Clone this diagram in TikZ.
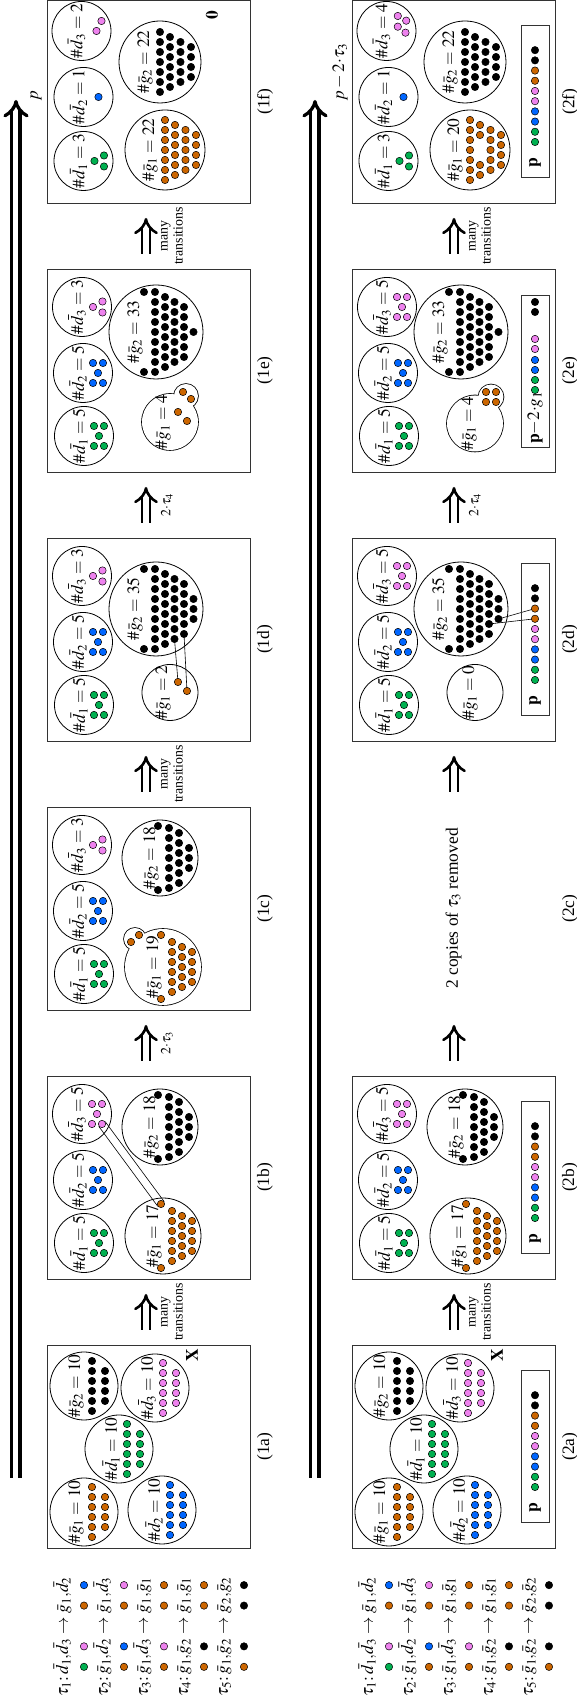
\documentclass[tikz,border=0pt]{standalone}
\usepackage{amsmath}
\usepackage{mathptmx}
\usepackage{fontspec}
\setmainfont{Liberation Serif}
\usetikzlibrary{arrows.meta, positioning, calc}

\definecolor{gcol}{RGB}{0,176,80}
\definecolor{bcol}{RGB}{0,102,255}
\definecolor{vcol}{RGB}{238,130,238}
\definecolor{ocol}{RGB}{204,102,0}
\definecolor{kcol}{RGB}{0,0,0}

\newcommand{\gbr}[1]{\bar{g}_{#1}}
\newcommand{\dbr}[1]{\bar{d}_{#1}}

% one token, and a centred row of tokens
\newcommand{\tokat}[3]{\filldraw[tokline, fill=#1] (#2,#3) circle[radius=3.7];}
\newcommand{\tokrow}[3]{\foreach \k in {1,...,#3}{\tokat{#1}{{(\k-1)*10-(#3-1)*5}}{#2}}}

% token layouts inside a set
\newcommand{\layquinc}[1]{\tokat{#1}{-10}{-10}\tokat{#1}{10}{-10}\tokat{#1}{0}{-15}\tokat{#1}{-10}{-20}\tokat{#1}{10}{-20}}
\newcommand{\laytrio}[1]{\tokat{#1}{0}{-11}\tokat{#1}{-5.5}{-20.5}\tokat{#1}{5.5}{-20.5}}
\newcommand{\layten}[1]{\tokrow{#1}{-8}{6}\tokrow{#1}{-21}{4}}
\newcommand{\laysvt}[1]{\tokat{#1}{-32}{2}\tokat{#1}{32}{2}\tokrow{#1}{-9}{6}\tokrow{#1}{-19}{5}\tokrow{#1}{-29}{4}}
\newcommand{\layegt}[1]{\tokat{#1}{-32}{2}\tokat{#1}{32}{2}\tokrow{#1}{-9}{7}\tokrow{#1}{-19}{6}\tokrow{#1}{-29}{3}}
\newcommand{\laytwt}[1]{\tokrow{#1}{0}{7}\tokrow{#1}{-10}{6}\tokrow{#1}{-20.5}{5}\tokrow{#1}{-31}{4}}
\newcommand{\laytwz}[1]{\tokrow{#1}{0}{7}\tokat{#1}{-25}{-10}\tokat{#1}{-15}{-10}\tokat{#1}{15}{-10}\tokat{#1}{25}{-10}\tokrow{#1}{-20.5}{5}\tokrow{#1}{-31}{4}}
\newcommand{\laytft}[1]{\tokat{#1}{-40}{12}\tokat{#1}{40}{12}\tokrow{#1}{1}{9}\tokrow{#1}{-9}{8}\tokrow{#1}{-18.5}{7}\tokrow{#1}{-28}{6}\tokrow{#1}{-37.5}{3}}
\newcommand{\laytth}[1]{\tokat{#1}{-40}{12}\tokat{#1}{40}{12}\tokrow{#1}{1}{9}\tokrow{#1}{-9}{8}\tokrow{#1}{-18.5}{7}\tokrow{#1}{-28}{6}\tokat{#1}{0}{-37.5}}
\newcommand{\ptoks}{\foreach \cl [count=\j from 0] in {gcol,gcol,bcol,bcol,vcol,vcol,ocol,ocol,kcol,kcol}{\tokat{\cl}{61+10.2*\j}{20}}}

% set: x, y, radius, label dy, label name, label, tokens
\newcommand{\cset}[7]{%
  \draw[setline] (#1,#2) circle[radius=#3];
  \begin{scope}[shift={(#1,#2)}]
    \node[lbl] (#5) at (0,#4) {$#6$};
    #7
  \end{scope}}

\begin{document}
\begin{tikzpicture}[
    x=1pt, y=1pt,
    rotate=90, transform shape,
    font=\fontsize{17.4}{20}\selectfont,
    frame/.style={draw=black!80, line width=0.9pt, minimum size=203pt, inner sep=0pt},
    setline/.style={draw=black, line width=0.8pt},
    tokline/.style={draw=black, line width=0.5pt},
    lbl/.style={inner sep=0pt},
    leg/.style={inner sep=0pt, outer sep=0pt},
    pbox/.style={draw=black!80, line width=0.9pt, minimum width=152pt, minimum height=28pt, inner sep=0pt},
    move/.style={double, line width=2.6pt, double distance=5.4pt, -{Implies}},
    track/.style={double, line width=3.3pt, double distance=5pt, -{Implies}},
    small/.style={font=\fontsize{13.9}{15}\selectfont, align=center, inner sep=0pt}
]
\useasboundingbox (0,0) rectangle (1702,577);

\def\rowA{327}
\def\rowB{22}

\coordinate (trkA-s) at (224,561);
\coordinate (trkA-e) at (1602,561);
\draw[track] (trkA-s) -- (trkA-e);
\node[anchor=north west] (trkA-l) at (1598,550) {$p$};
\coordinate (trkB-s) at (224,262);
\coordinate (trkB-e) at (1602,262);
\draw[track] (trkB-s) -- (trkB-e);
\node[anchor=north west] (trkB-l) at (1598,248) {$p - 2{\cdot}\tau_3$};

\foreach \yb [count=\r] in {\rowA,\rowB}{
  \foreach \pa/\qa/\pb/\qb/\pc/\qc/\pd/\qd [count=\i] in {
      \dbr1/gcol/\dbr3/vcol/\gbr1/ocol/\dbr2/bcol,
      \gbr1/ocol/\dbr2/bcol/\gbr1/ocol/\dbr3/vcol,
      \gbr1/ocol/\dbr3/vcol/\gbr1/ocol/\gbr1/ocol,
      \gbr1/ocol/\gbr2/kcol/\gbr1/ocol/\gbr1/ocol,
      \gbr1/ocol/\gbr2/kcol/\gbr2/kcol/\gbr2/kcol}{
    \node[leg, anchor=base west] (lg\r\i0) at (6,{\yb+182-40*(\i-1)}) {$\tau_{\i}{:}\,$};
    \node[leg, anchor=base west] (lg\r\i1) at (lg\r\i0.base east) {$\pa$};
    \node[leg, anchor=base west] (lg\r\i5) at (lg\r\i1.base east) {$,$};
    \node[leg, anchor=base west] (lg\r\i2) at (lg\r\i5.base east) {$\pb$};
    \node[leg, anchor=base west] (lg\r\i6) at (lg\r\i2.base east) {$\;\rightarrow\;$};
    \node[leg, anchor=base west] (lg\r\i3) at (lg\r\i6.base east) {$\pc$};
    \node[leg, anchor=base west] (lg\r\i7) at (lg\r\i3.base east) {$,$};
    \node[leg, anchor=base west] (lg\r\i4) at (lg\r\i7.base east) {$\pd$};
    \filldraw[tokline, fill=\qa] ($(lg\r\i1.base)+(0,-16)$) circle[radius=3.7];
    \filldraw[tokline, fill=\qb] ($(lg\r\i2.base)+(0,-16)$) circle[radius=3.7];
    \filldraw[tokline, fill=\qc] ($(lg\r\i3.base)+(0,-16)$) circle[radius=3.7];
    \filldraw[tokline, fill=\qd] ($(lg\r\i4.base)+(0,-16)$) circle[radius=3.7];
  }
}

\foreach \cx [count=\j] in {390,659,928,1197,1466}{
  \coordinate (mvA\j-s) at ({\cx-18},431);
  \coordinate (mvA\j-e) at ({\cx+18},431);
  \draw[move] (mvA\j-s) -- (mvA\j-e);
  \coordinate (mvB\j-s) at ({\cx-18},123);
  \coordinate (mvB\j-e) at ({\cx+18},123);
  \draw[move] (mvB\j-s) -- (mvB\j-e);
}
\node[small, anchor=north] (mlA1) at (390,416) {many\\transitions};
\node[small, anchor=north] (mlA2) at (659,416) {$2{\cdot}\tau_3$};
\node[small, anchor=north] (mlA3) at (928,416) {many\\transitions};
\node[small, anchor=north] (mlA4) at (1197,416) {$2{\cdot}\tau_4$};
\node[small, anchor=north] (mlA5) at (1466,416) {many\\transitions};
\node[small, anchor=north] (mlB1) at (390,108) {many\\transitions};
\node[small, anchor=north] (mlB4) at (1197,108) {$2{\cdot}\tau_4$};
\node[small, anchor=north] (mlB5) at (1466,108) {many\\transitions};

% (1a)
\begin{scope}[shift={(154,\rowA)}]
  \node[frame] (b1a) at (101.5,101.5) {};
  \node (c1a) at (101.5,-15) {(1a)};
  \node (x1a) at (193,58) {$\mathbf{X}$};
  \cset{36}{166}{34}{8}{t1a-g1}{\#\gbr1 = 10}{\layten{ocol}}
  \cset{162}{166}{34}{8}{t1a-g2}{\#\gbr2 = 10}{\layten{kcol}}
  \cset{99}{131}{34}{8}{t1a-d1}{\#\dbr1 = 10}{\layten{gcol}}
  \cset{38}{88}{34}{8}{t1a-d2}{\#\dbr2 = 10}{\layten{bcol}}
  \cset{160}{95}{34}{8}{t1a-d3}{\#\dbr3 = 10}{\layten{vcol}}
\end{scope}

% (2a)
\begin{scope}[shift={(154,\rowB)}]
  \node[frame] (b2a) at (101.5,101.5) {};
  \node (c2a) at (101.5,-15) {(2a)};
  \node (x2a) at (193,58) {$\mathbf{X}$};
  \cset{36}{166}{34}{8}{t2a-g1}{\#\gbr1 = 10}{\layten{ocol}}
  \cset{162}{166}{34}{8}{t2a-g2}{\#\gbr2 = 10}{\layten{kcol}}
  \cset{99}{131}{34}{8}{t2a-d1}{\#\dbr1 = 10}{\layten{gcol}}
  \cset{38}{88}{34}{8}{t2a-d2}{\#\dbr2 = 10}{\layten{bcol}}
  \cset{160}{95}{34}{8}{t2a-d3}{\#\dbr3 = 10}{\layten{vcol}}
  \node[pbox] (p2a) at (102,20) {};
  \node[lbl] (p2a-t) at (40,20) {$\mathbf{p}$};
  \ptoks
\end{scope}

% (1b)
\begin{scope}[shift={(423,\rowA)}]
  \node[frame] (b1b) at (101.5,101.5) {};
  \node (c1b) at (101.5,-15) {(1b)};
  \coordinate (e1b-v) at (155,148);
  \coordinate (e1b-o) at (75,89);
  \draw[setline, line width=0.6pt] ($(e1b-v)!4pt!90:(e1b-o)$) -- ($(e1b-o)!4pt!-90:(e1b-v)$)
                                   ($(e1b-v)!4pt!-90:(e1b-o)$) -- ($(e1b-o)!4pt!90:(e1b-v)$);
  \cset{36}{166}{29.5}{5}{t1b-d1}{\#\dbr1 = 5}{\layquinc{gcol}}
  \cset{99}{167}{29.5}{5}{t1b-d2}{\#\dbr2 = 5}{\layquinc{bcol}}
  \cset{165}{168}{29.5}{5}{t1b-d3}{\#\dbr3 = 5}{\layquinc{vcol}}
  \cset{43}{87}{38}{9}{t1b-g1}{\#\gbr1 = 17}{\laysvt{ocol}}
  \cset{152}{90}{38}{9}{t1b-g2}{\#\gbr2 = 18}{\layegt{kcol}}
\end{scope}

% (2b)
\begin{scope}[shift={(423,\rowB)}]
  \node[frame] (b2b) at (101.5,101.5) {};
  \node (c2b) at (101.5,-15) {(2b)};
  \cset{36}{166}{29.5}{5}{t2b-d1}{\#\dbr1 = 5}{\layquinc{gcol}}
  \cset{99}{167}{29.5}{5}{t2b-d2}{\#\dbr2 = 5}{\layquinc{bcol}}
  \cset{165}{168}{29.5}{5}{t2b-d3}{\#\dbr3 = 5}{\layquinc{vcol}}
  \cset{43}{87}{38}{9}{t2b-g1}{\#\gbr1 = 17}{\laysvt{ocol}}
  \cset{152}{90}{38}{9}{t2b-g2}{\#\gbr2 = 18}{\layegt{kcol}}
  \node[pbox] (p2b) at (102,20) {};
  \node[lbl] (p2b-t) at (40,20) {$\mathbf{p}$};
  \ptoks
\end{scope}

% (1c)
\begin{scope}[shift={(692,\rowA)}]
  \node[frame] (b1c) at (101.5,101.5) {};
  \node (c1c) at (101.5,-15) {(1c)};
  \cset{36}{166}{29.5}{5}{t1c-d1}{\#\dbr1 = 5}{\layquinc{gcol}}
  \cset{99}{167}{29.5}{5}{t1c-d2}{\#\dbr2 = 5}{\layquinc{bcol}}
  \cset{165}{168}{29.5}{5}{t1c-d3}{\#\dbr3 = 3}{\laytrio{vcol}}
  \draw[setline, line width=1.6pt] (43,87) circle[radius=38] (71,115) circle[radius=11];
  \fill[white] (43,87) circle[radius=38] (71,115) circle[radius=11];
  \begin{scope}[shift={(43,87)}]
    \node[lbl] (t1c-g1) at (0,9) {$\#\gbr1 = 19$};
    \laysvt{ocol}
  \end{scope}
  \tokat{ocol}{68}{119}
  \tokat{ocol}{75}{111}
  \cset{152}{90}{38}{9}{t1c-g2}{\#\gbr2 = 18}{\layegt{kcol}}
\end{scope}

% (2c)
\node (t2c) at (793.5,123.5) {2 copies of $\tau_3$ removed};
\node (c2c) at (793.5,7) {(2c)};

% (1d)
\begin{scope}[shift={(961,\rowA)}]
  \node[frame] (b1d) at (101.5,101.5) {};
  \node (c1d) at (101.5,-15) {(1d)};
  \coordinate (o1d-1) at (59,72);
  \coordinate (o1d-2) at (50,63);
  \coordinate (k1d-1) at (102,75.5);
  \coordinate (k1d-2) at (107,66);
  \draw[setline, line width=0.6pt] (o1d-1) -- (k1d-1) (o1d-2) -- (k1d-2);
  \cset{36}{166}{29.5}{5}{t1d-d1}{\#\dbr1 = 5}{\layquinc{gcol}}
  \cset{99}{167}{29.5}{5}{t1d-d2}{\#\dbr2 = 5}{\layquinc{bcol}}
  \cset{165}{168}{29.5}{5}{t1d-d3}{\#\dbr3 = 3}{\laytrio{vcol}}
  \cset{48.5}{80}{28}{7}{t1d-g1}{\#\gbr1 = 2}{\tokat{ocol}{10.5}{-8}\tokat{ocol}{1.5}{-17}}
  \cset{132}{94}{47}{21}{t1d-g2}{\#\gbr2 = 35}{\laytft{kcol}}
\end{scope}

% (2d)
\begin{scope}[shift={(961,\rowB)}]
  \node[frame] (b2d) at (101.5,101.5) {};
  \node (c2d) at (101.5,-15) {(2d)};
  \coordinate (k2d-1) at (117,66);
  \coordinate (k2d-2) at (122,56.5);
  \coordinate (o2d-1) at (122.2,20);
  \coordinate (o2d-2) at (132.4,20);
  \draw[setline, line width=0.6pt] (k2d-1) -- (o2d-1) (k2d-2) -- (o2d-2);
  \cset{36}{166}{29.5}{5}{t2d-d1}{\#\dbr1 = 5}{\layquinc{gcol}}
  \cset{99}{167}{29.5}{5}{t2d-d2}{\#\dbr2 = 5}{\layquinc{bcol}}
  \cset{165}{168}{29.5}{5}{t2d-d3}{\#\dbr3 = 5}{\layquinc{vcol}}
  \cset{48.5}{80}{28}{5}{t2d-g1}{\#\gbr1 = 0}{}
  \cset{132}{94}{47}{21}{t2d-g2}{\#\gbr2 = 35}{\laytft{kcol}}
  \node[pbox] (p2d) at (102,20) {};
  \node[lbl] (p2d-t) at (40,20) {$\mathbf{p}$};
  \ptoks
\end{scope}

% (1e)
\begin{scope}[shift={(1230,\rowA)}]
  \node[frame] (b1e) at (101.5,101.5) {};
  \node (c1e) at (101.5,-15) {(1e)};
  \cset{36}{166}{29.5}{5}{t1e-d1}{\#\dbr1 = 5}{\layquinc{gcol}}
  \cset{99}{167}{29.5}{5}{t1e-d2}{\#\dbr2 = 5}{\layquinc{bcol}}
  \cset{165}{168}{29.5}{5}{t1e-d3}{\#\dbr3 = 3}{\laytrio{vcol}}
  \draw[setline, line width=1.6pt] (50,80) circle[radius=28] (76,64) circle[radius=12];
  \fill[white] (50,80) circle[radius=28] (76,64) circle[radius=12];
  \node[lbl] (t1e-g1) at (50,87) {$\#\gbr1 = 4$};
  \tokat{ocol}{60}{72}
  \tokat{ocol}{51}{63}
  \tokat{ocol}{80}{67}
  \tokat{ocol}{73}{59}
  \cset{140}{94}{47}{21}{t1e-g2}{\#\gbr2 = 33}{\laytth{kcol}}
\end{scope}

% (2e)
\begin{scope}[shift={(1230,\rowB)}]
  \node[frame] (b2e) at (101.5,101.5) {};
  \node (c2e) at (101.5,-15) {(2e)};
  \cset{36}{166}{29.5}{5}{t2e-d1}{\#\dbr1 = 5}{\layquinc{gcol}}
  \cset{99}{167}{29.5}{5}{t2e-d2}{\#\dbr2 = 5}{\layquinc{bcol}}
  \cset{165}{168}{29.5}{5}{t2e-d3}{\#\dbr3 = 5}{\layquinc{vcol}}
  \draw[setline, line width=1.6pt] (48.5,80) circle[radius=28] (75,64) circle[radius=12.5];
  \fill[white] (48.5,80) circle[radius=28] (75,64) circle[radius=12.5];
  \node[lbl] (t2e-g1) at (48.5,86) {$\#\gbr1 = 4$};
  \tokat{ocol}{70}{59}
  \tokat{ocol}{80}{59}
  \tokat{ocol}{70}{69}
  \tokat{ocol}{80}{69}
  \cset{140}{94}{47}{21}{t2e-g2}{\#\gbr2 = 33}{\laytth{kcol}}
  \node[pbox] (p2e) at (101,20) {};
  \node[lbl, anchor=west] (p2e-t) at (28,20) {$\mathbf{p}{-}2{\cdot}g_1$};
  \foreach \cl/\xx in {gcol/82,gcol/92,bcol/102,bcol/112,vcol/123,vcol/133,kcol/160,kcol/170}{\tokat{\cl}{\xx}{20}}
\end{scope}

% (1f)
\begin{scope}[shift={(1499,\rowA)}]
  \node[frame] (b1f) at (101.5,101.5) {};
  \node (c1f) at (101.5,-15) {(1f)};
  \node (z1f) at (188,38) {$\mathbf{0}$};
  \cset{42}{166.5}{29.5}{5}{t1f-d1}{\#\dbr1 = 3}{\laytrio{gcol}}
  \cset{106}{166.5}{29.5}{5}{t1f-d2}{\#\dbr2 = 1}{\tokat{bcol}{0}{-15}}
  \cset{172}{168.5}{29.5}{5}{t1f-d3}{\#\dbr3 = 2}{\tokat{vcol}{10}{-20}\tokat{vcol}{0}{-15}}
  \cset{53}{85}{40}{15}{t1f-g1}{\#\gbr1 = 22}{\laytwt{ocol}}
  \cset{141}{90}{41}{15}{t1f-g2}{\#\gbr2 = 22}{\laytwt{kcol}}
\end{scope}

% (2f)
\begin{scope}[shift={(1499,\rowB)}]
  \node[frame] (b2f) at (101.5,101.5) {};
  \node (c2f) at (101.5,-15) {(2f)};
  \cset{42}{166.5}{29.5}{5}{t2f-d1}{\#\dbr1 = 3}{\laytrio{gcol}}
  \cset{106}{166.5}{29.5}{5}{t2f-d2}{\#\dbr2 = 1}{\tokat{bcol}{0}{-15}}
  \cset{172}{168.5}{29.5}{5}{t2f-d3}{\#\dbr3 = 4}{\tokat{vcol}{15}{-11.3}\tokat{vcol}{4.3}{-11.3}\tokat{vcol}{10.3}{-19.7}\tokat{vcol}{-1.7}{-19}}
  \cset{53}{85}{40}{15}{t2f-g1}{\#\gbr1 = 20}{\laytwz{ocol}}
  \cset{141}{90}{41}{15}{t2f-g2}{\#\gbr2 = 22}{\laytwt{kcol}}
  \node[pbox] (p2f) at (102,20) {};
  \node[lbl] (p2f-t) at (40,20) {$\mathbf{p}$};
  \ptoks
\end{scope}

\end{tikzpicture}
\end{document}
